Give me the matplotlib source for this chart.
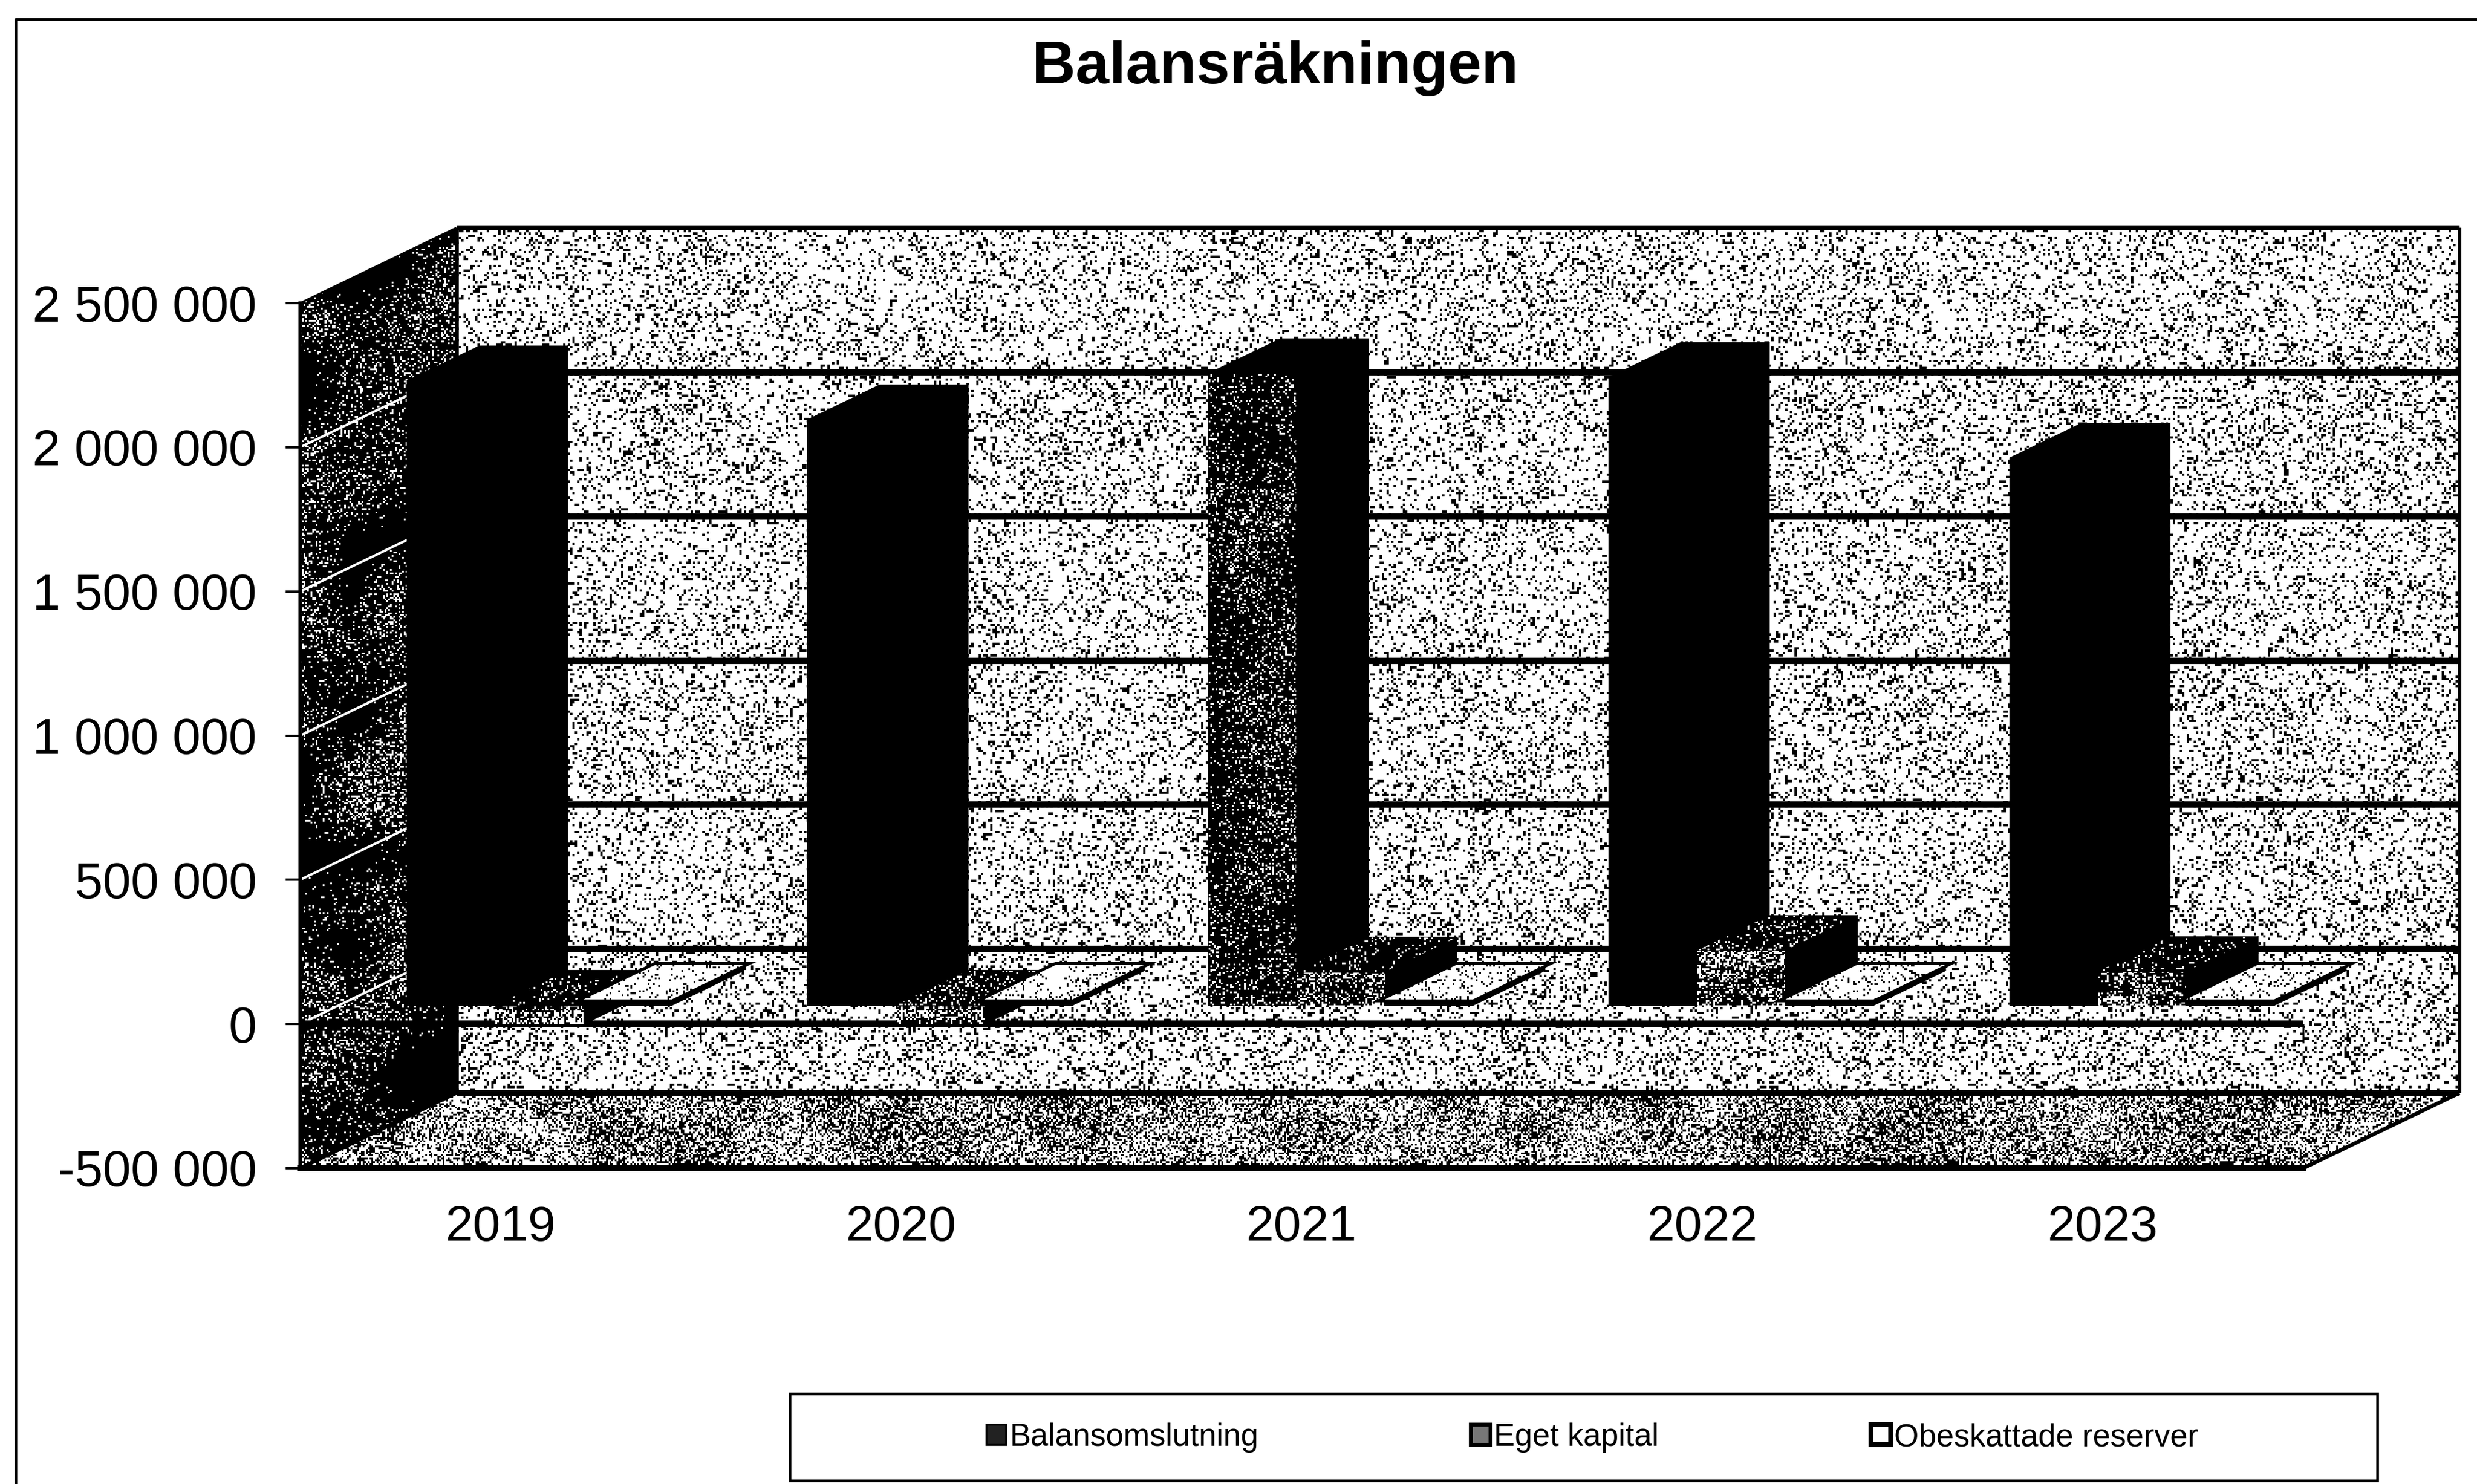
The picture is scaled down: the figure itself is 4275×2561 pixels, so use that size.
import numpy as np
import matplotlib
matplotlib.use("Agg")
import matplotlib.pyplot as plt
from matplotlib.patches import Patch, Polygon, Rectangle
from matplotlib.lines import Line2D

plt.rcParams['font.family'] = ['Liberation Sans', 'DejaVu Sans']

# values
years = ['2019', '2020', '2021', '2022', '2023']
balansomslutning = [2165000, 2030000, 2190000, 2177000, 1897000]
eget_kapital = [-65000, -65000, 115000, 190000, 117000]
obeskattade_reserver = [20000, 20000, 20000, 20000, 20000]
series_names = ['Balansomslutning', 'Eget kapital', 'Obeskattade reserver']
y_ticks = [-500000, 0, 500000, 1000000, 1500000, 2000000, 2500000]
y_tick_labels = ['-500 000', '0', '500 000', '1 000 000', '1 500 000', '2 000 000', '2 500 000']

W, H = 4275, 2561
fig = plt.figure(figsize=(W / 300, H / 300), dpi=300)
ax = fig.add_axes([518 / W, 1 - 2016 / H, (3975 - 518) / W, (2016 - 523) / H])

# fake 3D: depth 0 is the front plane, depth 1 the back wall
wall_dx = 0.39
wall_dy = 261000
y_min, y_max = y_ticks[0], y_ticks[-1]
bar_w = 0.22
bar_gap = 0.17
d0, d1 = 0.25, 0.71


def p(x, y, d):
    return (x + d * wall_dx, y + d * wall_dy)


# only the granite pattern fill of the surfaces uses the generator, no chart value does
rng = np.random.default_rng(7)
zo = [1]


def blobs(ny, nx):
    coarse = rng.random((max(ny // 25, 2) + 1, max(nx // 25, 2) + 1))
    xi = np.linspace(0, coarse.shape[1] - 1, nx)
    yi = np.linspace(0, coarse.shape[0] - 1, ny)
    rows = np.array([np.interp(xi, np.arange(coarse.shape[1]), r) for r in coarse])
    return np.array([np.interp(yi, np.arange(coarse.shape[0]), c) for c in rows.T]).T


def surface(pts, dens, mottle=0.0, cell=3):
    # speckled surface: noise image clipped to the polygon
    pts = np.array(pts, dtype=float)
    zo[0] += 1
    poly = Polygon(pts, closed=True, transform=ax.transData)
    px = ax.transData.transform(pts)
    nx = max(int(np.ptp(px[:, 0]) / cell), 2)
    ny = max(int(np.ptp(px[:, 1]) / cell), 2)
    noise = rng.random((ny, nx))
    d = dens + mottle * (blobs(ny, nx) - 0.5) * 2
    img = (noise > d).astype(float)
    im = ax.imshow(img, cmap='gray', vmin=0, vmax=1, interpolation='nearest', aspect='auto',
                   extent=(pts[:, 0].min(), pts[:, 0].max(), pts[:, 1].min(), pts[:, 1].max()),
                   zorder=zo[0])
    im.set_clip_box(fig.bbox)
    im.set_clip_path(poly)


def solid(pts, color='black', ec='black', lw=0.5):
    zo[0] += 1
    ax.add_patch(Polygon(pts, closed=True, fc=color, ec=ec, lw=lw, clip_on=False, zorder=zo[0]))


def line(pts, lw, color='black'):
    zo[0] += 1
    xs, ys = zip(*pts)
    ax.plot(xs, ys, color=color, lw=lw, clip_on=False, zorder=zo[0], solid_capstyle='butt')


n = len(years)
ax.set_xlim(0, n)
ax.set_ylim(y_min, y_max)

# walls and floor
surface([p(0, y_min, 1), p(n, y_min, 1), p(n, y_max, 1), p(0, y_max, 1)], 0.19, mottle=0.05, cell=4)
surface([p(0, y_min, 0), p(0, y_min, 1), p(0, y_max, 1), p(0, y_max, 0)], 0.85, mottle=0.25)
surface([p(0, y_min, 0), p(n, y_min, 0), p(n, y_min, 1), p(0, y_min, 1)], 0.48, mottle=0.25)

# gridlines on the back wall, white streaks on the dark side wall
for v in y_ticks[1:-1]:
    line([p(0, v, 1), p(n, v, 1)], 2.6)
    line([p(0, v, 0), p(0, v, 1)], 1.0, color='white')
line([p(0, y_max, 1), p(n, y_max, 1)], 2.0)
line([p(n, y_min, 1), p(n, y_max, 1)], 1.4)
line([p(0, y_min, 1), p(n, y_min, 1)], 2.4)
line([p(0, y_max, 0), p(0, y_max, 1)], 0.8)
line([p(n, y_min, 0), p(n, y_min, 1)], 1.6)
line([p(0, y_min, 0), p(0, y_min, 1)], 1.6)
line([p(0, y_min, 1), p(0, y_max, 1)], 1.6)

# x axis on the zero level with its small ticks
line([p(0, 0, 0), p(n, 0, 0)], 2.9)
for i in range(1, n + 1):
    line([p(i, 0, 0), p(i, -65000, 0)], 0.8)

# bars
all_series = [balansomslutning, eget_kapital, obeskattade_reserver]
for i in range(n):
    for s, vals in enumerate(all_series):
        v = vals[i]
        x0 = i + bar_gap + s * bar_w
        x1 = x0 + bar_w
        lo, hi = min(v, 0), max(v, 0)
        front = [p(x0, lo, d0), p(x1, lo, d0), p(x1, hi, d0), p(x0, hi, d0)]
        side = [p(x1, lo, d0), p(x1, lo, d1), p(x1, hi, d1), p(x1, hi, d0)]
        top = [p(x0, hi, d0), p(x1, hi, d0), p(x1, hi, d1), p(x0, hi, d1)]
        if s == 0:
            solid(front)
            if years[i] == '2021':
                surface(front, 0.85, mottle=0.15)
            solid(side)
            solid(top)
        elif s == 1:
            solid(side)
            surface(front, 0.62, mottle=0.3)
            solid(top)
            surface(top, 0.85, mottle=0.15)
        else:
            solid(side)
            solid(front)
            solid(top, color='white', ec='black', lw=2.4)
            surface(top, 0.12)

# axes
for name in ['top', 'right']:
    ax.spines[name].set_visible(False)
ax.spines['left'].set_linewidth(1.4)
ax.spines['bottom'].set_linewidth(2.4)
ax.spines['left'].set_zorder(100)
ax.spines['bottom'].set_zorder(100)
ax.set_yticks(y_ticks)
ax.set_yticklabels(y_tick_labels, fontsize=20.9)
ax.tick_params(axis='y', length=6, width=1.0, pad=12)
ax.set_xticks(np.arange(n) + 0.5)
ax.set_xticklabels(years, fontsize=20.6)
ax.tick_params(axis='x', length=0, pad=15)

fig.text(2201 / W, 1 - 117 / H, 'Balansräkningen', fontsize=25, fontweight='bold', ha='center', va='center')

# chart border, top and left only are visible in the scan
fig.add_artist(Line2D([27 / W, 27 / W, 1], [0, 1 - 33 / H, 1 - 33 / H], color='black', lw=1.1))

# legend
fig.add_artist(Rectangle((1363 / W, 1 - 2555 / H), (4103 - 1363) / W, (2555 - 2405) / H,
                         transform=fig.transFigure, fill=False, ec='black', lw=1.1))
handles = [Patch(fc='#222222', ec='black', lw=0.8),
           Patch(fc='#777777', ec='black', lw=1.6),
           Patch(fc='white', ec='black', lw=2.0)]
fig.legend(handles, series_names, ncol=3, loc='center', bbox_to_anchor=(2748 / W, 1 - 2481 / H),
           frameon=False, fontsize=13.1, borderpad=0, handlelength=0.62, handleheight=0.62,
           handletextpad=0.12, columnspacing=6.7)

fig.savefig('out.png', dpi=300)
